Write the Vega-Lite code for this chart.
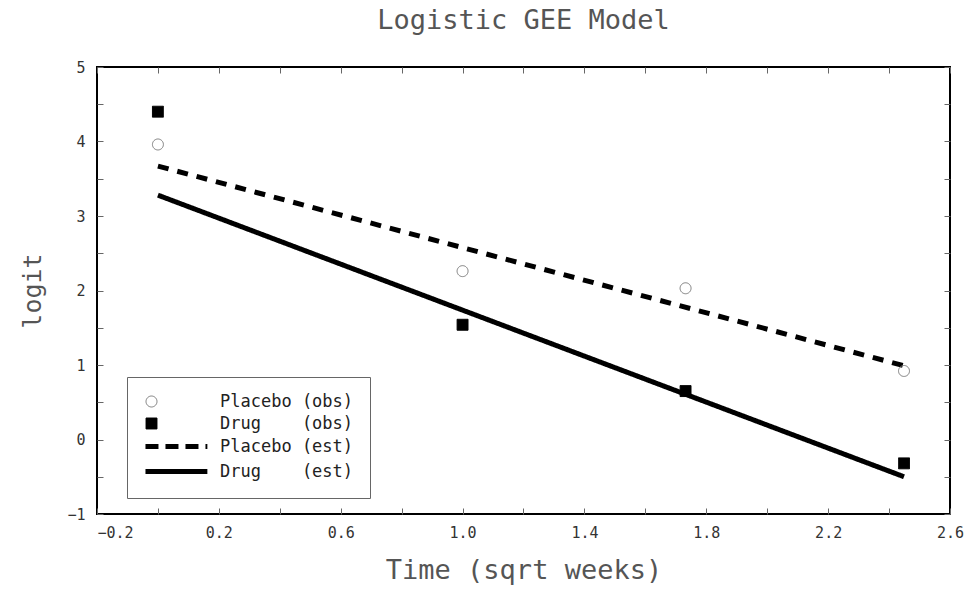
{
  "$schema": "https://vega.github.io/schema/vega-lite/v6.json",
  "width": 853,
  "height": 447,
  "autosize": {"type": "none"},
  "padding": {"left": 97, "top": 67, "right": 16, "bottom": 77},
  "background": "white",
  "title": {
    "text": "Logistic GEE Model",
    "font": "DejaVu Sans Mono",
    "fontSize": 27,
    "fontWeight": "normal",
    "color": "#555",
    "anchor": "middle",
    "frame": "group",
    "baseline": "alphabetic",
    "offset": 4
  },
  "config": {
    "view": {"stroke": "black", "strokeWidth": 2},
    "axis": {
      "domain": false,
      "grid": false,
      "tickColor": "#666",
      "tickWidth": 1,
      "tickSize": -6,
      "labelFont": "DejaVu Sans Mono",
      "labelFontSize": 15,
      "labelColor": "#333",
      "labelOverlap": false,
      "labelFlush": false,
      "labelBound": false,
      "titleFont": "DejaVu Sans Mono",
      "titleFontWeight": "normal",
      "titleColor": "#555"
    },
    "legend": {
      "orient": "none",
      "legendX": 30,
      "legendY": 310,
      "strokeColor": "#666",
      "fillColor": "white",
      "padding": 16,
      "rowPadding": 4,
      "symbolSize": 120,
      "labelOffset": 60,
      "labelFont": "DejaVu Sans Mono",
      "labelFontSize": 17,
      "labelColor": "#222"
    }
  },
  "layer": [
    {
      "data": {
        "values": [
          {"t": 0, "logit": 3.67, "series": "Placebo (est)"},
          {"t": 2.449, "logit": 0.99, "series": "Placebo (est)"},
          {"t": 0, "logit": 3.28, "series": "Drug (est)"},
          {"t": 2.449, "logit": -0.5, "series": "Drug (est)"}
        ]
      },
      "mark": {"type": "line", "color": "black", "strokeWidth": 5, "strokeCap": "butt"},
      "encoding": {
        "x": {
          "field": "t",
          "type": "quantitative",
          "scale": {"domain": [-0.2, 2.6], "nice": false, "zero": false},
          "axis": {
            "orient": "top",
            "values": [-0.2, 0, 0.2, 0.4, 0.6, 0.8, 1.0, 1.2, 1.4, 1.6, 1.8, 2.0, 2.2, 2.4, 2.6],
            "labels": false,
            "title": null
          }
        },
        "y": {
          "field": "logit",
          "type": "quantitative",
          "scale": {"domain": [-1, 5], "nice": false, "zero": false},
          "axis": {
            "orient": "right",
            "values": [-1, -0.5, 0, 0.5, 1, 1.5, 2, 2.5, 3, 3.5, 4, 4.5, 5],
            "labels": false,
            "title": null
          }
        },
        "detail": {"field": "series", "type": "nominal"},
        "strokeDash": {
          "condition": {"test": "datum.series == 'Placebo (est)'", "value": [11, 9]},
          "value": [1, 0]
        }
      }
    },
    {
      "data": {
        "values": [
          {"t": 0, "logit": 3.96, "series": "Placebo (obs)"},
          {"t": 1, "logit": 2.26, "series": "Placebo (obs)"},
          {"t": 1.732, "logit": 2.03, "series": "Placebo (obs)"},
          {"t": 2.449, "logit": 0.92, "series": "Placebo (obs)"},
          {"t": 0, "logit": 4.4, "series": "Drug (obs)"},
          {"t": 1, "logit": 1.54, "series": "Drug (obs)"},
          {"t": 1.732, "logit": 0.65, "series": "Drug (obs)"},
          {"t": 2.449, "logit": -0.32, "series": "Drug (obs)"}
        ]
      },
      "mark": {"type": "point", "size": 120, "opacity": 1},
      "encoding": {
        "x": {
          "field": "t",
          "type": "quantitative",
          "axis": {
            "orient": "bottom",
            "values": [-0.2, 0, 0.2, 0.4, 0.6, 0.8, 1.0, 1.2, 1.4, 1.6, 1.8, 2.0, 2.2, 2.4, 2.6],
            "labelExpr": "(round(datum.value*10)+2) % 4 == 0 ? format(datum.value, '.1f') : ''",
            "labelPadding": 17,
            "labelAlign": {"condition": {"test": "datum.value < -0.1", "value": "left"}, "value": "center"},
            "title": "Time (sqrt weeks)",
            "titleFontSize": 27,
            "titleBaseline": "alphabetic",
            "titleY": 64
          }
        },
        "y": {
          "field": "logit",
          "type": "quantitative",
          "axis": {
            "orient": "left",
            "values": [-1, -0.5, 0, 0.5, 1, 1.5, 2, 2.5, 3, 3.5, 4, 4.5, 5],
            "labelExpr": "datum.value % 1 == 0 ? format(datum.value, 'd') : ''",
            "labelPadding": 18,
            "title": "logit",
            "titleFontSize": 25,
            "titleBaseline": "alphabetic",
            "titleX": -57
          }
        },
        "shape": {
          "field": "series",
          "type": "nominal",
          "scale": {
            "domain": ["Placebo (obs)", "Drug (obs)", "Placebo (est)", "Drug (est)"],
            "range": ["circle", "square", "M-1.1,0H10.2", "M-1.1,0H10.2"]
          },
          "legend": {
            "title": null,
            "orient": "none",
            "legendX": 30,
            "legendY": 310,
            "labelExpr": "replace(datum.label, 'Drug ', 'Drug\u00a0\u00a0\u00a0\u00a0')"
          }
        },
        "fill": {
          "field": "series",
          "type": "nominal",
          "scale": {
            "domain": ["Placebo (obs)", "Drug (obs)", "Placebo (est)", "Drug (est)"],
            "range": ["transparent", "black", "transparent", "transparent"]
          },
          "legend": {"title": null}
        },
        "stroke": {
          "field": "series",
          "type": "nominal",
          "scale": {
            "domain": ["Placebo (obs)", "Drug (obs)", "Placebo (est)", "Drug (est)"],
            "range": ["#777777", "black", "black", "black"]
          },
          "legend": {"title": null}
        },
        "strokeWidth": {
          "field": "series",
          "type": "nominal",
          "scale": {
            "type": "ordinal",
            "domain": ["Placebo (obs)", "Drug (obs)", "Placebo (est)", "Drug (est)"],
            "range": [1, 1, 5, 5]
          },
          "legend": {"title": null}
        },
        "strokeDash": {
          "field": "series",
          "type": "nominal",
          "scale": {
            "domain": ["Placebo (obs)", "Drug (obs)", "Placebo (est)", "Drug (est)"],
            "range": [[1, 0], [1, 0], [13, 7], [1, 0]]
          },
          "legend": {"title": null}
        }
      }
    }
  ],
  "resolve": {"axis": {"x": "independent", "y": "independent"}}
}
